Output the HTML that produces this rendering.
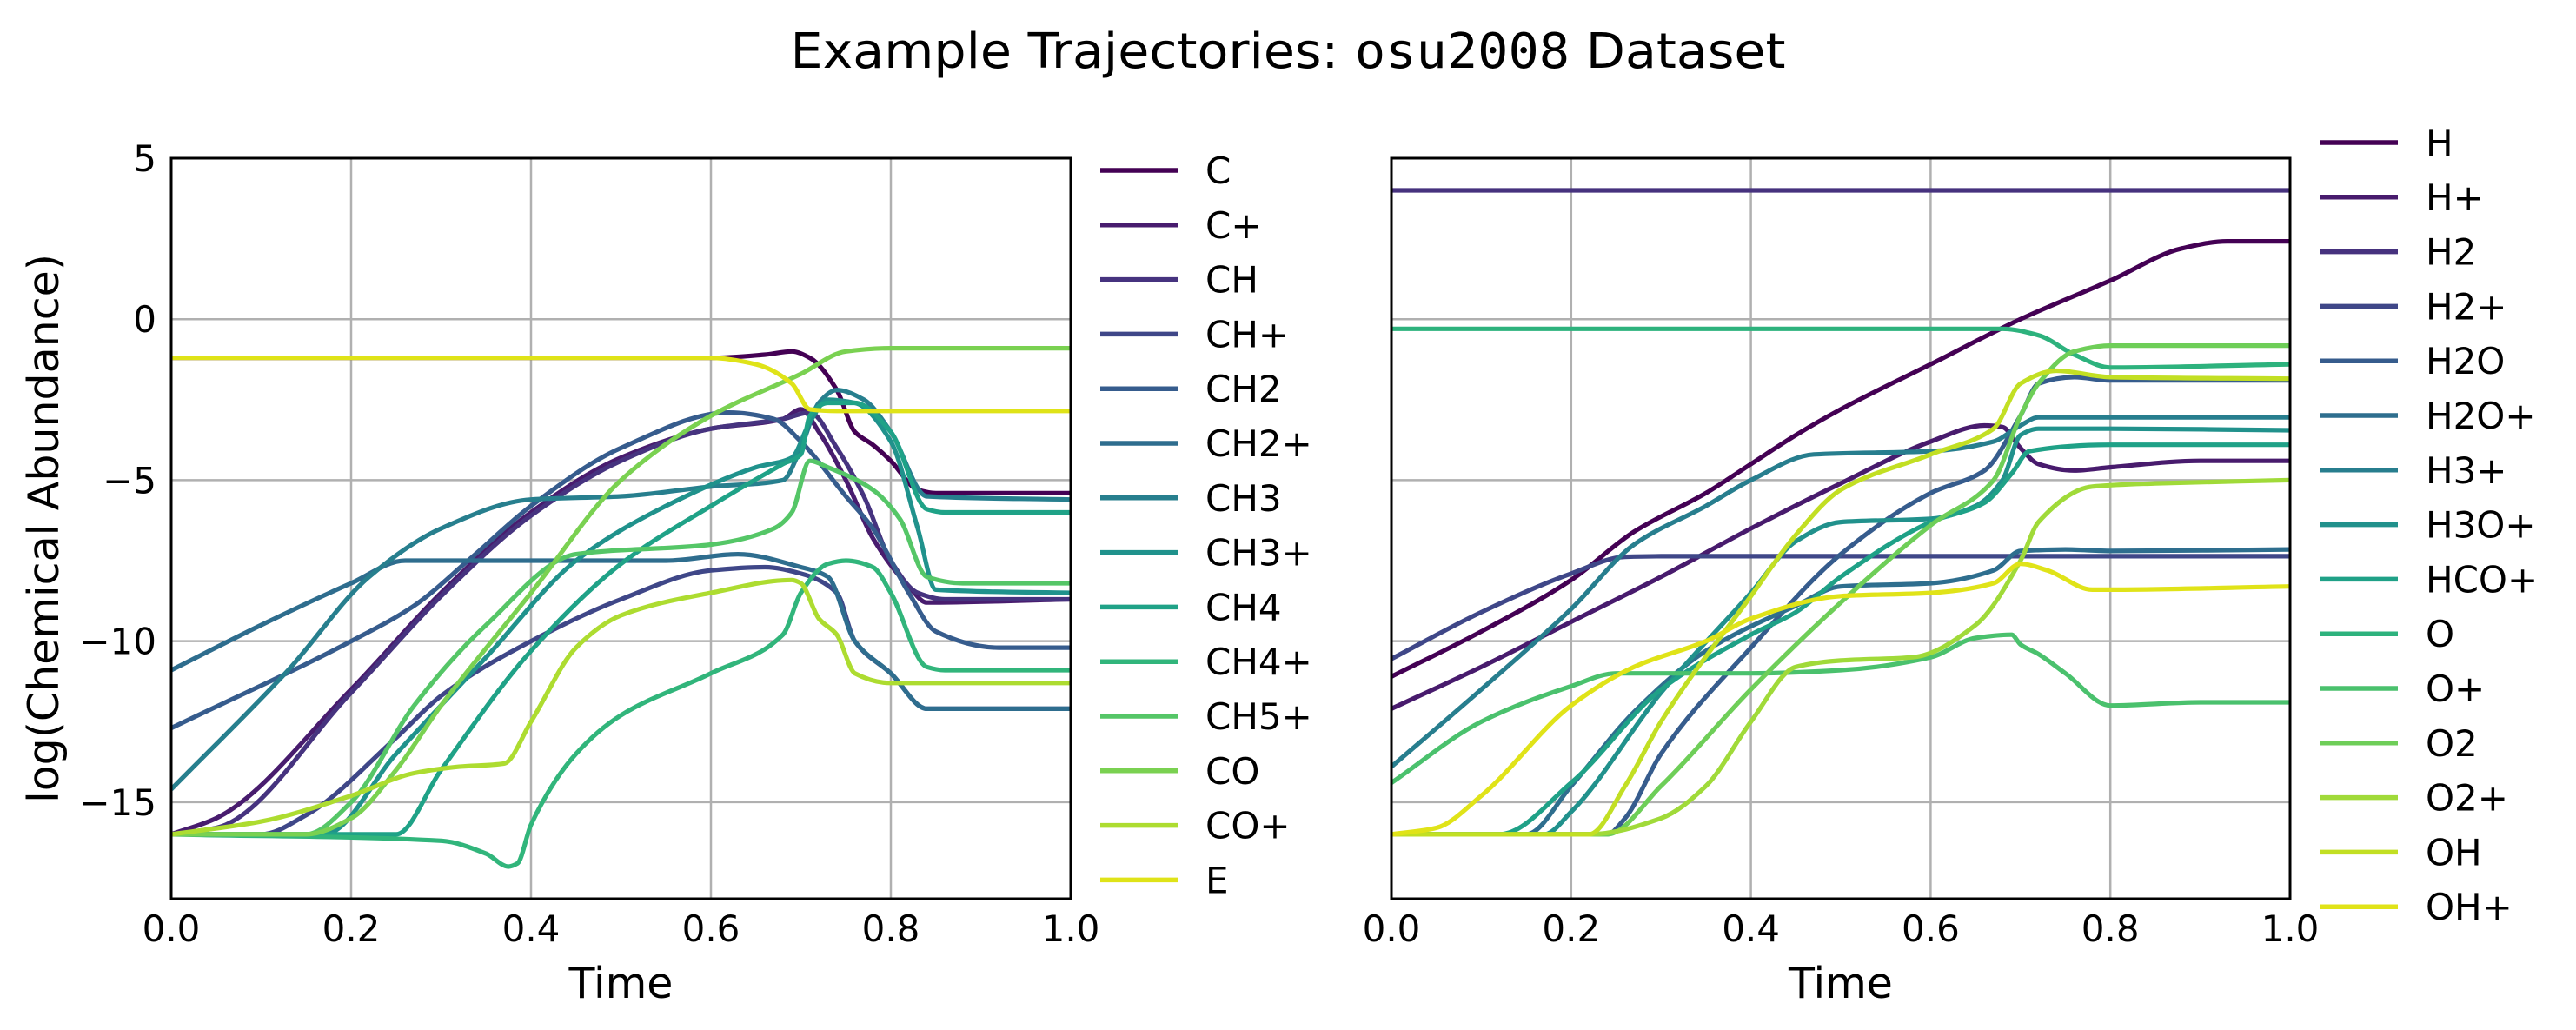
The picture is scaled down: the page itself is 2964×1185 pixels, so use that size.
<!DOCTYPE html>
<html><head><meta charset="utf-8"><style>
html,body{margin:0;padding:0;background:#fff;}
svg{display:block;font-family:"DejaVu Sans","Liberation Sans",sans-serif;}
</style></head><body>
<svg id="fig" xmlns="http://www.w3.org/2000/svg" width="2964" height="1185" viewBox="0 0 2964 1185">
<rect width="2964" height="1185" fill="#fff"/>
<text x="1482" y="78" text-anchor="middle" font-size="56" textLength="1145" lengthAdjust="spacingAndGlyphs">Example Trajectories: <tspan font-family="'DejaVu Sans Mono','Liberation Mono',monospace">osu2008</tspan> Dataset</text>
<g id="left"></g>
<g id="right"></g>
</svg>
<script>
const xTicks=[0,0.2,0.4,0.6,0.8,1.0];
const xTickLabels=["0.0","0.2","0.4","0.6","0.8","1.0"];
const yTicks=[5,0,-5,-10,-15];
const yTickLabels=["5","0","\u22125","\u221210","\u221215"];
const leftNames=["C","C+","CH","CH+","CH2","CH2+","CH3","CH3+","CH4","CH4+","CH5+","CO","CO+","E"];
const leftColors=["#440154","#481c6e","#46337f","#3f4788","#365c8d","#2e6d8e","#277f8e","#20928c","#1fa287","#31b57b","#55c667","#7ad151","#addc30","#dfe318"];
const leftSeries=[
[[0,-1.2],[0.6,-1.2],[0.66,-1.1],[0.69,-1.0],[0.71,-1.2],[0.74,-2.2],[0.76,-3.5],[0.78,-3.9],[0.8,-4.4],[0.83,-5.3],[0.85,-5.4],[1,-5.4]],
[[0,-16],[0.05,-15.5],[0.2,-11.5],[0.3,-8.5],[0.4,-6],[0.5,-4.3],[0.6,-3.4],[0.68,-3.1],[0.7,-2.8],[0.72,-3.5],[0.75,-5],[0.78,-6.8],[0.82,-8.3],[0.84,-8.8],[1,-8.7]],
[[0,-16],[0.05,-15.8],[0.2,-11.6],[0.3,-8.6],[0.4,-6.1],[0.5,-4.4],[0.6,-3.4],[0.68,-3.1],[0.71,-2.9],[0.74,-4],[0.77,-5.5],[0.8,-7.5],[0.83,-8.5],[0.86,-8.7],[1,-8.7]],
[[0,-16],[0.1,-16],[0.15,-15.4],[0.25,-13],[0.3,-11.7],[0.4,-10],[0.5,-8.7],[0.6,-7.8],[0.66,-7.7],[0.7,-7.9],[0.74,-8.5],[0.76,-10],[0.8,-11],[0.84,-12.1],[1,-12.1]],
[[0,-12.7],[0.2,-10],[0.27,-8.9],[0.33,-7.5],[0.4,-5.8],[0.5,-4],[0.62,-2.9],[0.67,-3.1],[0.7,-3.8],[0.75,-5.5],[0.78,-6.5],[0.82,-8.5],[0.85,-9.7],[0.92,-10.2],[1,-10.2]],
[[0,-10.9],[0.1,-9.5],[0.2,-8.2],[0.26,-7.5],[0.55,-7.5],[0.63,-7.3],[0.7,-7.7],[0.73,-8],[0.76,-10],[0.8,-11],[0.84,-12.1],[1,-12.1]],
[[0,-14.6],[0.13,-10.9],[0.22,-8],[0.3,-6.5],[0.4,-5.6],[0.5,-5.5],[0.6,-5.2],[0.68,-5.0],[0.7,-4],[0.72,-2.6],[0.74,-2.2],[0.77,-2.5],[0.8,-3.5],[0.84,-5.5],[1,-5.6]],
[[0,-16],[0.17,-16],[0.25,-13.5],[0.35,-10.5],[0.45,-7.5],[0.55,-5.8],[0.65,-4.6],[0.69,-4.3],[0.71,-3.2],[0.73,-2.5],[0.76,-2.6],[0.8,-3.8],[0.83,-6.5],[0.85,-8.4],[1,-8.5]],
[[0,-16],[0.25,-16],[0.3,-14],[0.4,-10.3],[0.5,-7.6],[0.6,-5.8],[0.68,-4.5],[0.7,-4.2],[0.71,-3],[0.73,-2.6],[0.76,-2.6],[0.8,-3.5],[0.84,-5.9],[0.86,-6],[1,-6]],
[[0,-16],[0.3,-16.2],[0.35,-16.6],[0.375,-17],[0.385,-16.9],[0.4,-15.7],[0.45,-13.5],[0.5,-12.3],[0.6,-11],[0.68,-9.8],[0.7,-8.5],[0.73,-7.6],[0.75,-7.5],[0.78,-7.7],[0.8,-8.5],[0.84,-10.8],[0.86,-10.9],[1,-10.9]],
[[0,-16],[0.15,-16],[0.2,-15],[0.27,-12],[0.35,-9.5],[0.45,-7.3],[0.6,-7],[0.67,-6.5],[0.69,-6],[0.71,-4.4],[0.73,-4.6],[0.78,-5.3],[0.81,-6.2],[0.84,-8],[0.88,-8.2],[1,-8.2]],
[[0,-16],[0.15,-16],[0.2,-15.5],[0.25,-14],[0.3,-12],[0.4,-8.5],[0.5,-5],[0.6,-3],[0.7,-1.7],[0.75,-1.0],[0.8,-0.9],[1,-0.9]],
[[0,-16],[0.1,-15.6],[0.2,-14.8],[0.27,-14.1],[0.32,-13.9],[0.37,-13.8],[0.4,-12.5],[0.45,-10.2],[0.5,-9.2],[0.6,-8.5],[0.69,-8.1],[0.7,-8.2],[0.72,-9.3],[0.74,-9.8],[0.76,-11.0],[0.8,-11.3],[1,-11.3]],
[[0,-1.2],[0.6,-1.2],[0.65,-1.4],[0.69,-2.0],[0.71,-2.8],[0.74,-2.85],[1,-2.85]]
];
const rightNames=["H","H+","H2","H2+","H2O","H2O+","H3+","H3O+","HCO+","O","O+","O2","O2+","OH","OH+"];
const rightColors=["#440154","#481b6d","#46327e","#3f4788","#365c8d","#2e6e8e","#277e8e","#21918c","#1fa187","#2db27d","#4ac16d","#6ece58","#a0da39","#c2df23","#e0e318"];
const rightSeries=[
[[0,-11.1],[0.1,-9.7],[0.2,-8.1],[0.27,-6.6],[0.35,-5.4],[0.4,-4.5],[0.45,-3.6],[0.5,-2.8],[0.6,-1.4],[0.7,0.0],[0.8,1.2],[0.88,2.2],[0.93,2.42],[1,2.42]],
[[0,-12.1],[0.1,-10.8],[0.2,-9.4],[0.3,-8],[0.4,-6.5],[0.5,-5.1],[0.6,-3.8],[0.66,-3.3],[0.68,-3.35],[0.7,-4],[0.72,-4.5],[0.76,-4.7],[0.8,-4.6],[0.9,-4.4],[1,-4.4]],
[[0,4.0],[1,4.0]],
[[0,-10.55],[0.1,-9.1],[0.2,-7.9],[0.26,-7.38],[0.3,-7.36],[1,-7.36]],
[[0,-16],[0.24,-16],[0.26,-15.5],[0.3,-13.5],[0.4,-10.2],[0.5,-7.3],[0.6,-5.4],[0.66,-4.7],[0.7,-3],[0.72,-2.0],[0.76,-1.8],[0.8,-1.9],[1,-1.9]],
[[0,-16],[0.15,-16],[0.2,-14.5],[0.27,-12.2],[0.35,-10.3],[0.45,-8.9],[0.5,-8.3],[0.6,-8.2],[0.67,-7.8],[0.7,-7.2],[0.75,-7.15],[0.8,-7.2],[1,-7.15]],
[[0,-13.9],[0.1,-11.5],[0.2,-9],[0.27,-7],[0.35,-5.8],[0.4,-5],[0.47,-4.2],[0.6,-4.1],[0.67,-3.8],[0.7,-3.3],[0.72,-3.05],[1,-3.05]],
[[0,-16],[0.17,-16],[0.2,-15.3],[0.3,-11.6],[0.4,-8.5],[0.45,-6.9],[0.5,-6.3],[0.6,-6.2],[0.65,-5.8],[0.68,-5],[0.7,-3.6],[0.72,-3.4],[0.8,-3.4],[1,-3.45]],
[[0,-16],[0.12,-16],[0.2,-14.4],[0.3,-11.5],[0.4,-9.8],[0.45,-9.1],[0.5,-8],[0.6,-6.3],[0.66,-5.7],[0.69,-4.8],[0.71,-4.1],[0.8,-3.9],[1,-3.9]],
[[0,-0.3],[0.68,-0.3],[0.72,-0.5],[0.76,-1.1],[0.8,-1.5],[1,-1.4]],
[[0,-14.4],[0.1,-12.5],[0.2,-11.4],[0.25,-11.0],[0.4,-11.0],[0.5,-10.9],[0.6,-10.5],[0.65,-9.9],[0.69,-9.8],[0.7,-10.1],[0.72,-10.4],[0.75,-11],[0.8,-12],[0.9,-11.9],[1,-11.9]],
[[0,-16],[0.24,-16],[0.3,-14.5],[0.4,-11.5],[0.5,-8.8],[0.6,-6.4],[0.67,-5],[0.7,-3],[0.72,-2],[0.76,-1.0],[0.8,-0.82],[1,-0.82]],
[[0,-16],[0.22,-16],[0.3,-15.5],[0.35,-14.5],[0.4,-12.5],[0.45,-10.8],[0.5,-10.6],[0.58,-10.5],[0.65,-9.5],[0.7,-7.5],[0.72,-6.3],[0.78,-5.2],[0.85,-5.1],[1,-5.0]],
[[0,-16],[0.22,-16],[0.26,-14.5],[0.3,-12.5],[0.4,-8.6],[0.45,-6.7],[0.5,-5.3],[0.6,-4.2],[0.67,-3.4],[0.7,-2],[0.74,-1.6],[0.8,-1.8],[1,-1.85]],
[[0,-16],[0.05,-15.8],[0.1,-14.8],[0.2,-12],[0.27,-10.8],[0.35,-10],[0.4,-9.3],[0.5,-8.6],[0.6,-8.5],[0.67,-8.2],[0.7,-7.6],[0.73,-7.8],[0.78,-8.4],[0.8,-8.4],[1,-8.3]]
];
const NS="http://www.w3.org/2000/svg";
const Y0=182,Y1=1034,YMIN=-18,YMAX=5;
function mk(tag,attrs,parent){const e=document.createElementNS(NS,tag);for(const k in attrs)e.setAttribute(k,attrs[k]);parent.appendChild(e);return e;}
function smooth(p){
  const n=p.length;
  if(n<3){return "M"+p.map(q=>q[0].toFixed(1)+","+q[1].toFixed(1)).join("L");}
  const d=[],m=[];
  for(let i=0;i<n-1;i++)d.push((p[i+1][1]-p[i][1])/(p[i+1][0]-p[i][0]));
  m[0]=d[0];m[n-1]=d[n-2];
  for(let i=1;i<n-1;i++){
    if(d[i-1]*d[i]<=0)m[i]=0;
    else{const h0=p[i][0]-p[i-1][0],h1=p[i+1][0]-p[i][0];const w1=2*h1+h0,w2=h1+2*h0;m[i]=(w1+w2)/(w1/d[i-1]+w2/d[i]);}
  }
  let s="M"+p[0][0].toFixed(1)+","+p[0][1].toFixed(1);
  for(let i=0;i<n-1;i++){
    const h=p[i+1][0]-p[i][0];
    s+="C"+(p[i][0]+h/3).toFixed(1)+","+(p[i][1]+m[i]*h/3).toFixed(1)+" "+(p[i+1][0]-h/3).toFixed(1)+","+(p[i+1][1]-m[i+1]*h/3).toFixed(1)+" "+p[i+1][0].toFixed(1)+","+p[i+1][1].toFixed(1);
  }
  return s;
}
function panel(g,X0,X1,names,colors,series,showY,legX,legY0,legDy){
  const sx=t=>X0+(t-0)/(1-0)*(X1-X0);
  const sy=v=>Y0+(YMAX-v)/(YMAX-YMIN)*(Y1-Y0);
  xTicks.forEach((t,i)=>{
    const l=mk("line",{x1:sx(t),x2:sx(t),y1:Y0,y2:Y1,stroke:"#b0b0b0","stroke-width":2.5},g);
    
    
    const tx=mk("text",{x:sx(t),y:1083,"text-anchor":"middle","font-size":42},g);
    tx.textContent=xTickLabels[i];
    
    
  });
  yTicks.forEach((v,i)=>{
    const l=mk("line",{x1:X0,x2:X1,y1:sy(v),y2:sy(v),stroke:"#b0b0b0","stroke-width":2.5},g);
    
    
    if(showY){
      const tx=mk("text",{x:180,y:sy(v)+15,"text-anchor":"end","font-size":42},g);
      tx.textContent=yTickLabels[i];
      
      
    }
  });
  const clip=mk("clipPath",{id:"c"+X0},g);
  mk("rect",{x:X0,y:Y0,width:X1-X0,height:Y1-Y0},clip);
  series.forEach((s,i)=>{
    const p=mk("path",{d:smooth(s.map(q=>[sx(q[0]),sy(q[1])])),fill:"none",stroke:colors[i],"stroke-width":5.2,"stroke-linejoin":"round","clip-path":"url(#c"+X0+")"},g);
    
    
    const ly=legY0+i*legDy;
    const ll=mk("line",{x1:legX,x2:legX+89,y1:ly,y2:ly,stroke:colors[i],"stroke-width":5.5},g);
    
    
    const lt=mk("text",{x:legX+121,y:ly+15,"font-size":42},g);
    lt.textContent=names[i];
    
    
  });
  const fr=mk("rect",{x:X0,y:Y0,width:X1-X0,height:Y1-Y0,fill:"none",stroke:"#000","stroke-width":3},g);
  
  
  const xl=mk("text",{x:(X0+X1)/2,y:1148,"text-anchor":"middle","font-size":49},g);
  xl.textContent="Time";
  
  
  if(showY){
    const yl=mk("text",{x:0,y:0,"text-anchor":"middle","font-size":49,transform:"translate(67,608) rotate(-90)"},g);
    yl.textContent="log(Chemical Abundance)";
    
    
  }
}
panel(document.getElementById("left"),197,1232,leftNames,leftColors,leftSeries,true,1266,196,62.8);
panel(document.getElementById("right"),1601,2635,rightNames,rightColors,rightSeries,false,2670,164,62.8);
</script>
</body></html>
